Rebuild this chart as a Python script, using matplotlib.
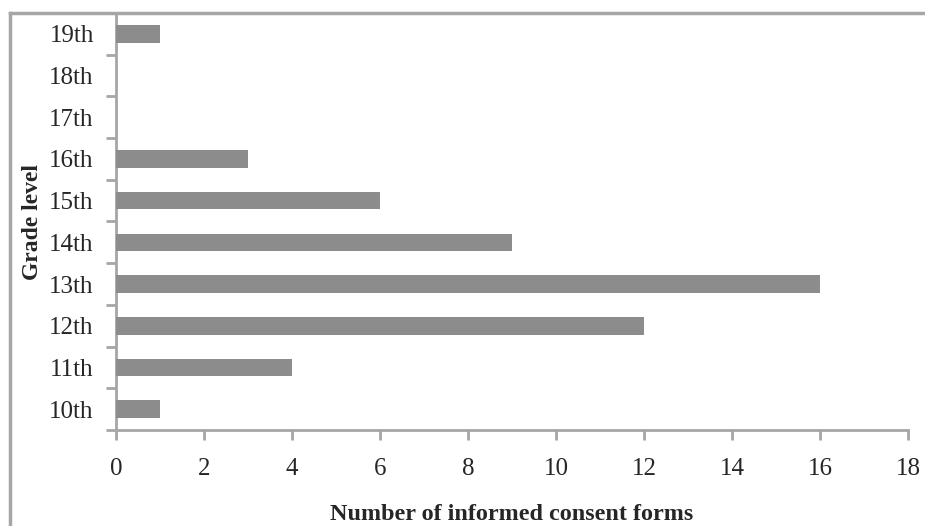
import matplotlib
matplotlib.use("Agg")
import matplotlib.pyplot as plt
import numpy as np
from matplotlib.lines import Line2D

grades = ["10th", "11th", "12th", "13th", "14th", "15th", "16th", "17th", "18th", "19th"]
counts = [1, 4, 12, 16, 9, 6, 3, 0, 0, 1]
x_ticks = [0, 2, 4, 6, 8, 10, 12, 14, 16, 18]

plt.rcParams['font.family'] = ['Liberation Serif', 'DejaVu Serif']

W, H = 925, 526
fig = plt.figure(figsize=(W / 100, H / 100), dpi=100)
ax = fig.add_axes([116 / W, 1 - 430 / H, (908 - 116) / W, (430 - 13) / H])

spine_c = "#a6a6a6"
bar_c = "#8c8c8c"
text_c = "#262626"

y = np.arange(len(grades))
ax.barh(y, counts, height=0.42, color=bar_c, zorder=3)

ax.set_xlim(0, 18)
ax.set_ylim(-0.5, len(grades) - 0.5)
ax.set_xticks(x_ticks)
ax.set_xticklabels([str(v) for v in x_ticks])
ax.set_yticks(y)
ax.set_yticklabels(grades)
ax.set_yticks(np.arange(-0.5, len(grades), 1.0), minor=True)

for s in ["top", "right"]:
    ax.spines[s].set_visible(False)
for s in ["left", "bottom"]:
    ax.spines[s].set_color(spine_c)
    ax.spines[s].set_linewidth(2)

ax.tick_params(axis="x", which="major", direction="out", length=7, width=2,
               color=spine_c, labelsize=18, labelcolor=text_c, pad=13)
ax.tick_params(axis="y", which="major", length=0, labelsize=18,
               labelcolor=text_c, pad=16)
ax.tick_params(axis="y", which="minor", direction="out", length=7, width=2,
               color=spine_c)

ax.set_xlabel("Number of informed consent forms", fontsize=17.4, fontweight="bold",
              color=text_c, va="center")
ax.set_ylabel("Grade level", fontsize=17, fontweight="bold", color=text_c,
              va="center")
ax.xaxis.set_label_coords(0.5, -(514 - 430) / (430 - 13))
ax.yaxis.set_label_coords(-(116 - 32) / (908 - 116), 0.5)

# outer chart frame (cropped)
fig.add_artist(Line2D([10 / W, 10 / W], [0, 1 - 13 / H], transform=fig.transFigure,
                      color=spine_c, lw=2.5))
fig.add_artist(Line2D([10 / W, 1], [1 - 13 / H, 1 - 13 / H], transform=fig.transFigure,
                      color=spine_c, lw=2.5))

fig.savefig("out.png", dpi=100)
